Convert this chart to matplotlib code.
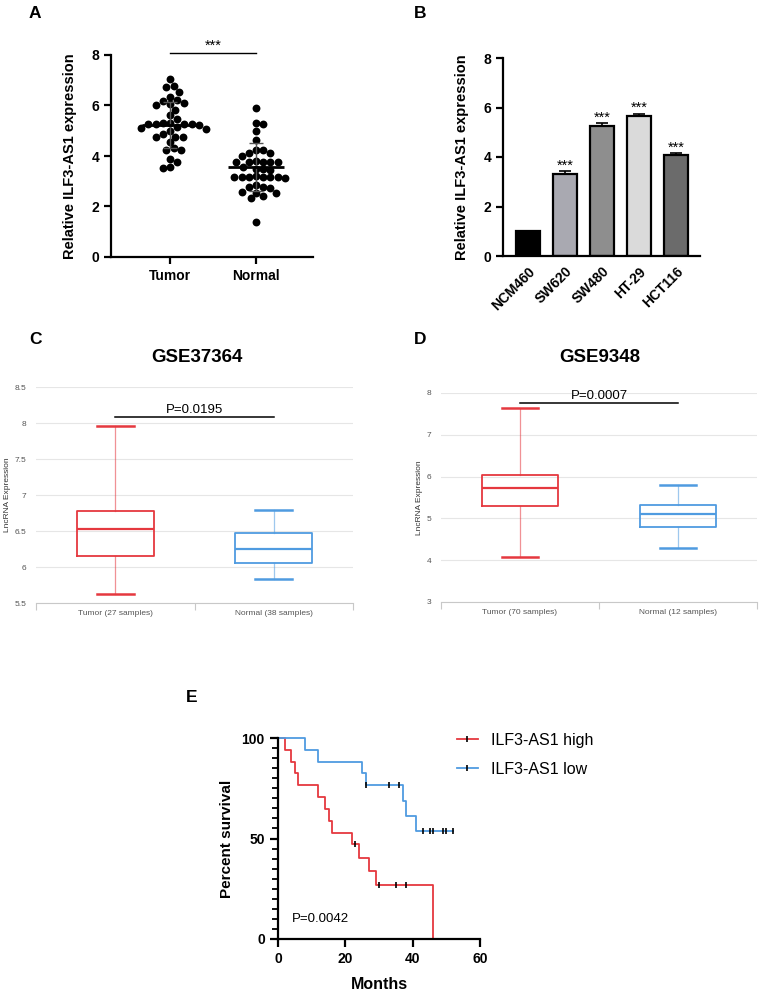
import matplotlib
matplotlib.use("Agg")
import matplotlib.pyplot as plt
import numpy as np
from matplotlib.lines import Line2D
from matplotlib.ticker import MultipleLocator

plt.rcParams['font.family'] = ['Liberation Sans', 'DejaVu Sans']

# ---- data ----
# A: scatter
tumor_vals = [7.04, 6.77, 6.72, 6.55, 6.35, 6.22, 6.19, 6.11, 6.06, 6.02, 5.82, 5.62,
              5.45, 5.30, 5.29, 5.27, 5.27, 5.26, 5.25, 5.22, 5.13, 5.12, 5.05, 4.98,
              4.87, 4.77, 4.76, 4.75, 4.57, 4.30, 4.24, 4.24, 3.87, 3.78, 3.55, 3.51]
normal_vals = [5.91, 5.32, 5.27, 4.99, 4.63, 4.24, 4.24, 4.13, 4.10, 4.00, 3.81, 3.78,
               3.78, 3.78, 3.78, 3.75, 3.55, 3.50, 3.48, 3.45, 3.20, 3.16, 3.16, 3.16,
               3.16, 3.16, 3.15, 3.14, 2.85, 2.79, 2.76, 2.74, 2.58, 2.55, 2.55, 2.42,
               2.32, 1.40]
groups_A = ['Tumor', 'Normal']
means_A = [5.22, 3.55]
sds_A = [0.92, 0.95]

# B: cell lines
cell_lines = ['NCM460', 'SW620', 'SW480', 'HT-29', 'HCT116']
cell_vals = [1.0, 3.30, 5.27, 5.65, 4.07]
cell_err = [0.0, 0.13, 0.09, 0.10, 0.08]
cell_colors = ['#000000', '#a9a9b1', '#8e8e8e', '#dadada', '#6b6b6b']

# C: GSE37364 box stats (whislo, q1, med, q3, whishi)
c_labels = ['Tumor (27 samples)', 'Normal (38 samples)']
c_stats = [[5.63, 6.15, 6.53, 6.78, 7.96], [5.84, 6.05, 6.25, 6.47, 6.79]]
# D: GSE9348
d_labels = ['Tumor (70 samples)', 'Normal (12 samples)']
d_stats = [[4.08, 5.30, 5.72, 6.05, 7.64], [4.30, 4.80, 5.10, 5.33, 5.80]]

# E: Kaplan-Meier steps
high_t = [0, 2, 4, 5, 6, 12, 14, 15, 16, 22, 24, 27, 29, 46]
high_s = [100, 94.1, 88.2, 82.4, 76.5, 70.6, 64.7, 58.8, 52.9, 47.1, 40.3, 33.6, 26.9, 0]
high_cens_t = [23, 30, 35, 38]
high_cens_s = [47.1, 26.9, 26.9, 26.9]
low_t = [0, 8, 12, 25, 26, 37, 38, 41, 52]
low_s = [100, 94.1, 88.2, 82.4, 76.5, 68.8, 61.2, 53.6, 53.6]
low_cens_t = [26, 33, 36, 43, 45, 46, 49, 50, 52]
low_cens_s = [76.5, 76.5, 76.5, 53.6, 53.6, 53.6, 53.6, 53.6, 53.6]

RED = '#e5383f'
BLUE = '#4f9be0'

W, H = 760, 991
fig = plt.figure(figsize=(W / 100, H / 100), dpi=100)


def box(x0, y_top, x1, y_bot):
    return [x0 / W, 1 - y_bot / H, (x1 - x0) / W, (y_bot - y_top) / H]


def prism_axes(ax):
    for s in ['top', 'right']:
        ax.spines[s].set_visible(False)
    for s in ['left', 'bottom']:
        ax.spines[s].set_linewidth(1.6)
    ax.tick_params(direction='out', length=5, width=1.6, labelsize=10)
    for lab in ax.get_yticklabels() + ax.get_xticklabels():
        lab.set_fontweight('bold')


def swarm(ax, center, vals, diam):
    pts = ax.transData.transform(np.column_stack([np.full(len(vals), center), vals]))
    ys = pts[:, 1]
    xc = pts[0, 0]
    placed = []
    xs = np.zeros(len(vals))
    step = diam / 4
    for i in np.argsort(vals)[::-1]:
        k = 0
        found = None
        while found is None:
            cands = [0.0] if k == 0 else [k * step, -k * step]
            for off in cands:
                if all((off - px) ** 2 + (ys[i] - py) ** 2 >= diam ** 2 for px, py in placed):
                    found = off
                    break
            k += 1
        placed.append((found, ys[i]))
        xs[i] = xc + found
    return ax.transData.inverted().transform(np.column_stack([xs, ys]))[:, 0]


# ---- A ----
axA = fig.add_axes(box(111, 55, 313, 257))
axA.set_xlim(0.314, 2.663)
axA.set_ylim(0, 8)
axA.set_yticks([0, 2, 4, 6, 8])
axA.set_xticks([1, 2])
axA.set_xticklabels(groups_A, fontsize=10.5)
prism_axes(axA)
for pos, vals in zip([1, 2], [tumor_vals, normal_vals]):
    xs = swarm(axA, pos, vals, 7.2)
    axA.scatter(xs, vals, s=32, color='black', zorder=3, linewidths=0)
for pos, m, sd in zip([1, 2], means_A, sds_A):
    axA.errorbar([pos], [m], yerr=[sd], fmt='none', ecolor='#555555', elinewidth=1.0,
                 capsize=5, capthick=1.0, zorder=4)
    axA.hlines(m, pos - 0.33, pos + 0.33, color='black', lw=2, zorder=4)
axA.plot([1, 2], [8.07, 8.07], color='black', lw=1, clip_on=False)
axA.text(1.5, 8.2, '***', ha='center', va='baseline', fontsize=10.5)
axA.set_ylabel('Relative ILF3-AS1 expression', fontsize=10.5, fontweight='bold')
axA.yaxis.set_label_coords(-0.168, 0.5)

# ---- B ----
axB = fig.add_axes(box(503, 58, 700, 256))
xb = np.arange(len(cell_lines))
axB.bar(xb, cell_vals, width=0.65, color=cell_colors, edgecolor='black', linewidth=1.6, zorder=2)
axB.errorbar(xb[1:], cell_vals[1:], yerr=[np.zeros(len(xb) - 1), cell_err[1:]], fmt='none',
             ecolor='black', elinewidth=1.2, capsize=4, capthick=1.2, zorder=1)
for x, v, e in zip(xb[1:], cell_vals[1:], cell_err[1:]):
    axB.text(x, v + e + 0.06, '***', ha='center', va='baseline', fontsize=10.5)
axB.set_xlim(-0.676, 4.65)
axB.set_ylim(0, 8)
axB.set_yticks([0, 2, 4, 6, 8])
axB.set_xticks(xb)
axB.set_xticklabels(cell_lines, rotation=45, ha='right', rotation_mode='anchor', fontsize=10)
prism_axes(axB)
axB.tick_params(axis='x', length=0, pad=6)
axB.set_ylabel('Relative ILF3-AS1 expression', fontsize=10.5, fontweight='bold')
axB.yaxis.set_label_coords(-0.173, 0.5)


# ---- C / D ----
def geo_panel(ax, stats, labels, ylim, ystep, pline_y, ptext, ptext_y, ylab_x):
    bstats = []
    for lab, (lo, q1, med, q3, hi) in zip(labels, stats):
        bstats.append(dict(label=lab, whislo=lo, q1=q1, med=med, q3=q3, whishi=hi))
    art = ax.bxp(bstats, positions=[0.5, 1.5], widths=0.486, capwidths=0.233,
                 showfliers=False, patch_artist=False)
    for i, col in enumerate([RED, BLUE]):
        art['boxes'][i].set(color=col, linewidth=1.3)
        art['medians'][i].set(color=col, linewidth=1.6)
        for w in art['whiskers'][2 * i:2 * i + 2]:
            w.set(color=col, linewidth=0.9, alpha=0.55)
        for c in art['caps'][2 * i:2 * i + 2]:
            c.set(color=col, linewidth=1.8)
    ax.set_xlim(0, 2)
    ax.set_ylim(*ylim)
    ax.yaxis.set_major_locator(MultipleLocator(ystep))
    ax.yaxis.set_major_formatter(matplotlib.ticker.FormatStrFormatter('%g'))
    ax.grid(axis='y', color='#e6e6e6', lw=0.8)
    ax.set_axisbelow(True)
    for s in ['top', 'right', 'left']:
        ax.spines[s].set_visible(False)
    ax.spines['bottom'].set_color('#c8c8c8')
    ax.spines['bottom'].set_linewidth(0.8)
    ax.set_xticks([0.5, 1.5])
    ax.set_xticklabels(labels)
    ax.set_xticks([0, 1, 2], minor=True)
    ax.tick_params(axis='x', which='major', length=0, pad=5, labelsize=6, labelcolor='#555555')
    ax.tick_params(axis='x', which='minor', length=5, color='#c8c8c8', width=0.8)
    ax.tick_params(axis='y', length=0, pad=7, labelsize=6, labelcolor='#555555')
    ax.plot([0.5, 1.5], [pline_y, pline_y], color='black', lw=1.1)
    ax.text(1.0, ptext_y, ptext, ha='center', va='baseline', fontsize=9.5)
    ax.set_ylabel('LncRNA Expression', fontsize=6, color='#333333')
    ax.yaxis.set_label_coords(ylab_x, 0.5)


axC = fig.add_axes(box(36, 387, 353, 603))
geo_panel(axC, c_stats, c_labels, (5.5, 8.5), 0.5, 8.08, 'P=0.0195', 8.135, -0.079)
fig.text(197 / W, 1 - 357 / H, 'GSE37364', ha='center', va='center', fontsize=13.5, fontweight='bold')

axD = fig.add_axes(box(441, 393, 757, 602))
geo_panel(axD, d_stats, d_labels, (3, 8), 1, 7.76, 'P=0.0007', 7.86, -0.057)
fig.text(600 / W, 1 - 357 / H, 'GSE9348', ha='center', va='center', fontsize=13.5, fontweight='bold')

# ---- E ----
axE = fig.add_axes(box(278, 738, 480, 939))
axE.step(high_t, high_s, where='post', color=RED, lw=1.3, clip_on=False)
axE.step(low_t, low_s, where='post', color=BLUE, lw=1.3, clip_on=False)
axE.plot(high_cens_t, high_cens_s, ls='none', marker='|', ms=4, mew=1.2, color='black')
axE.plot(low_cens_t, low_cens_s, ls='none', marker='|', ms=4, mew=1.2, color='black')
axE.set_xlim(0, 60)
axE.set_ylim(0, 100)
axE.set_xticks([0, 20, 40, 60])
axE.set_yticks([0, 50, 100])
axE.yaxis.set_minor_locator(MultipleLocator(5))
prism_axes(axE)
axE.tick_params(which='major', length=6)
axE.tick_params(axis='y', which='minor', length=4, width=1.3)
axE.text(4.2, 8.5, 'P=0.0042', fontsize=9.5, va='baseline')
axE.set_xlabel('Months', fontsize=11.5, fontweight='bold')
axE.xaxis.set_label_coords(0.5, -0.19)
axE.set_ylabel('Percent survival', fontsize=11, fontweight='bold')
axE.yaxis.set_label_coords(-0.218, 0.5)
handles = [Line2D([0], [0], color=RED, lw=1.3, marker='|', ms=5, mec='black', mew=1.2),
           Line2D([0], [0], color=BLUE, lw=1.3, marker='|', ms=5, mec='black', mew=1.2)]
fig.legend(handles, ['ILF3-AS1 high', 'ILF3-AS1 low'], loc='upper left',
           bbox_to_anchor=(457 / W, 1 - 733 / H), frameon=False, fontsize=11.5,
           handlelength=1.3, handletextpad=0.8, labelspacing=0.86, borderpad=0, borderaxespad=0,
           numpoints=1)

# panel letters
for lab, x, y in [('A', 35, 13), ('B', 420, 13), ('C', 35, 339), ('D', 420, 339), ('E', 192, 697)]:
    fig.text(x / W, 1 - y / H, lab, ha='center', va='center', fontsize=12.5, fontweight='bold')

fig.savefig('out.png', dpi=100)
